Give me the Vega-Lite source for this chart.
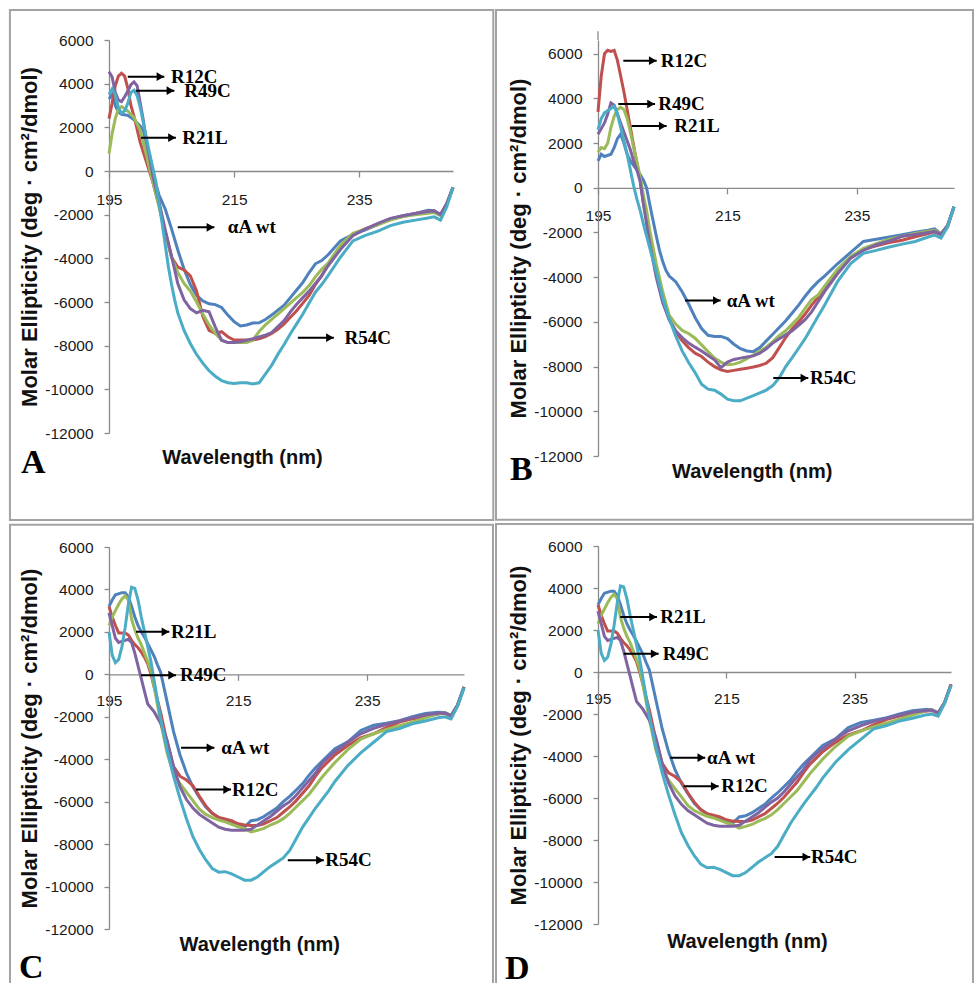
{
"$schema": "https://vega.github.io/schema/vega-lite/v6.json",
"padding": {"left": 8, "top": 9, "right": 0, "bottom": 0},
"background": "white",
"config": {
  "view": {"stroke": null},
  "axis": {"grid": false, "domainColor": "#8a8a8a", "tickColor": "#8a8a8a", "domainWidth": 1.3, "tickWidth": 1.3, "labelFont": "Liberation Sans", "labelFontSize": 15.5, "labelColor": "#1a1a1a", "titleFont": "Liberation Sans", "titleFontWeight": "bold", "titleColor": "#111111", "labelOverlap": false, "labelFlush": false},
  "axisX": {"tickSize": 6, "labelPadding": 15, "titleFontSize": 20, "titleAlign": "center", "titleBaseline": "middle"},
  "axisY": {"tickSize": 5, "labelPadding": 11, "titleFontSize": 22, "titlePadding": 3}
},
"datasets": {
"frames": [
{"p":"A","x":179.16,"x2":256.44,"v":7374,"v2":-15985,"L":"A","lx":180.92,"lv":-13832},
{"p":"B","x":179.24,"x2":252.94,"v":7953,"v2":-14847,"L":"B","lx":181.4,"lv":-13060},
{"p":"C","x":179.66,"x2":254.49,"v":7046,"v2":-14630,"L":"C","lx":181.06,"lv":-14300},
{"p":"D","x":179.11,"x2":253.43,"v":7048,"v2":-14857,"L":"D","lx":180.51,"lv":-14619}
],
"axisExt": [{"p":"B","x":195,"v":6612,"v2":7000}],
"ann": [
{"p":"A","t":"R12C","x":198.0,"x2":203.85,"v":4319,"tx":204.9},
{"p":"A","t":"R49C","x":199.3,"x2":205.45,"v":3678,"tx":207.05},
{"p":"A","t":"R21L","x":200.1,"x2":205.7,"v":1527,"tx":206.7},
{"p":"A","t":"αA wt","x":205.99,"x2":211.85,"v":-2580,"tx":214.0},
{"p":"A","t":"R54C","x":225.2,"x2":230.95,"v":-7633,"tx":232.65},
{"p":"B","t":"R12C","x":198.91,"x2":204.07,"v":5686,"tx":204.69},
{"p":"B","t":"R49C","x":198.14,"x2":203.81,"v":3750,"tx":204.32},
{"p":"B","t":"R21L","x":200.2,"x2":205.61,"v":2766,"tx":206.79},
{"p":"B","t":"αA wt","x":208.44,"x2":213.96,"v":-5044,"tx":214.88},
{"p":"B","t":"R54C","x":222.08,"x2":227.49,"v":-8513,"tx":227.75},
{"p":"C","t":"R21L","x":199.19,"x2":204.35,"v":2003,"tx":204.6},
{"p":"C","t":"R49C","x":199.96,"x2":205.39,"v":-38,"tx":206.0},
{"p":"C","t":"αA wt","x":206.16,"x2":211.33,"v":-3464,"tx":212.4},
{"p":"C","t":"R12C","x":208.49,"x2":213.91,"v":-5429,"tx":214.07},
{"p":"C","t":"R54C","x":222.7,"x2":228.29,"v":-8756,"tx":228.5},
{"p":"D","t":"R21L","x":198.47,"x2":204.19,"v":2619,"tx":204.7},
{"p":"D","t":"R49C","x":199.0,"x2":204.45,"v":871,"tx":205.1},
{"p":"D","t":"αA wt","x":206.26,"x2":211.71,"v":-4081,"tx":212.0},
{"p":"D","t":"R12C","x":208.35,"x2":213.8,"v":-5443,"tx":214.2},
{"p":"D","t":"R54C","x":222.52,"x2":228.07,"v":-8810,"tx":228.2}
],
"dA": [
{"s":"αA wt","x":195,"v":3300},{"s":"αA wt","x":195.5,"v":3500},{"s":"αA wt","x":196,"v":3000},{"s":"αA wt","x":196.5,"v":2700},{"s":"αA wt","x":197,"v":2600},{"s":"αA wt","x":198,"v":2550},{"s":"αA wt","x":199,"v":2350},{"s":"αA wt","x":200,"v":2050},{"s":"αA wt","x":200.5,"v":1850},{"s":"αA wt","x":201,"v":1300},{"s":"αA wt","x":201.5,"v":700},{"s":"αA wt","x":202,"v":0},{"s":"αA wt","x":202.5,"v":-600},{"s":"αA wt","x":203,"v":-1100},{"s":"αA wt","x":204,"v":-1750},{"s":"αA wt","x":205,"v":-2650},{"s":"αA wt","x":206,"v":-3620},{"s":"αA wt","x":207,"v":-4500},{"s":"αA wt","x":208,"v":-5200},{"s":"αA wt","x":209,"v":-5700},{"s":"αA wt","x":210,"v":-5950},{"s":"αA wt","x":211,"v":-6080},{"s":"αA wt","x":212,"v":-6120},{"s":"αA wt","x":213,"v":-6250},{"s":"αA wt","x":214,"v":-6600},{"s":"αA wt","x":215,"v":-6900},{"s":"αA wt","x":216,"v":-7100},{"s":"αA wt","x":217,"v":-7050},{"s":"αA wt","x":218,"v":-6960},{"s":"αA wt","x":219,"v":-6950},{"s":"αA wt","x":220,"v":-6800},{"s":"αA wt","x":221,"v":-6600},{"s":"αA wt","x":222,"v":-6370},{"s":"αA wt","x":223,"v":-6150},{"s":"αA wt","x":224,"v":-5800},{"s":"αA wt","x":225,"v":-5450},{"s":"αA wt","x":226,"v":-5100},{"s":"αA wt","x":227,"v":-4650},{"s":"αA wt","x":228,"v":-4250},{"s":"αA wt","x":229,"v":-4100},{"s":"αA wt","x":230,"v":-3850},{"s":"αA wt","x":232,"v":-3200},{"s":"αA wt","x":234,"v":-2900},{"s":"αA wt","x":236,"v":-2700},{"s":"αA wt","x":238,"v":-2450},{"s":"αA wt","x":240,"v":-2200},{"s":"αA wt","x":242,"v":-2050},{"s":"αA wt","x":244,"v":-1940},{"s":"αA wt","x":246,"v":-1800},{"s":"αA wt","x":247,"v":-1820},{"s":"αA wt","x":248,"v":-2000},{"s":"αA wt","x":249,"v":-1500},{"s":"αA wt","x":250,"v":-750},
{"s":"R12C","x":195,"v":2400},{"s":"R12C","x":195.5,"v":3100},{"s":"R12C","x":196,"v":3900},{"s":"R12C","x":196.5,"v":4350},{"s":"R12C","x":197,"v":4480},{"s":"R12C","x":197.5,"v":4350},{"s":"R12C","x":198,"v":3800},{"s":"R12C","x":198.5,"v":3000},{"s":"R12C","x":199,"v":2500},{"s":"R12C","x":199.5,"v":1900},{"s":"R12C","x":200,"v":1300},{"s":"R12C","x":201,"v":400},{"s":"R12C","x":202,"v":-500},{"s":"R12C","x":203,"v":-1600},{"s":"R12C","x":204,"v":-2800},{"s":"R12C","x":205,"v":-3950},{"s":"R12C","x":206,"v":-4400},{"s":"R12C","x":207,"v":-4530},{"s":"R12C","x":208,"v":-4800},{"s":"R12C","x":209,"v":-5500},{"s":"R12C","x":210,"v":-6670},{"s":"R12C","x":211,"v":-7300},{"s":"R12C","x":212,"v":-7440},{"s":"R12C","x":213,"v":-7360},{"s":"R12C","x":214,"v":-7590},{"s":"R12C","x":215,"v":-7740},{"s":"R12C","x":216,"v":-7740},{"s":"R12C","x":217,"v":-7740},{"s":"R12C","x":218,"v":-7740},{"s":"R12C","x":219,"v":-7680},{"s":"R12C","x":220,"v":-7590},{"s":"R12C","x":221,"v":-7440},{"s":"R12C","x":222,"v":-7250},{"s":"R12C","x":223,"v":-7000},{"s":"R12C","x":224,"v":-6700},{"s":"R12C","x":225,"v":-6400},{"s":"R12C","x":226,"v":-6050},{"s":"R12C","x":227,"v":-5700},{"s":"R12C","x":228,"v":-5200},{"s":"R12C","x":229,"v":-4800},{"s":"R12C","x":230,"v":-4300},{"s":"R12C","x":232,"v":-3500},{"s":"R12C","x":234,"v":-2950},{"s":"R12C","x":236,"v":-2650},{"s":"R12C","x":238,"v":-2450},{"s":"R12C","x":240,"v":-2200},{"s":"R12C","x":242,"v":-2080},{"s":"R12C","x":244,"v":-1950},{"s":"R12C","x":246,"v":-1860},{"s":"R12C","x":247,"v":-1830},{"s":"R12C","x":248,"v":-2000},{"s":"R12C","x":249,"v":-1500},{"s":"R12C","x":250,"v":-750},
{"s":"R21L","x":195,"v":800},{"s":"R21L","x":195.5,"v":1700},{"s":"R21L","x":196,"v":2400},{"s":"R21L","x":196.5,"v":2850},{"s":"R21L","x":197,"v":2950},{"s":"R21L","x":197.5,"v":2850},{"s":"R21L","x":198,"v":2750},{"s":"R21L","x":198.5,"v":2600},{"s":"R21L","x":199,"v":2450},{"s":"R21L","x":199.5,"v":2150},{"s":"R21L","x":200,"v":1850},{"s":"R21L","x":200.5,"v":1300},{"s":"R21L","x":201,"v":700},{"s":"R21L","x":201.5,"v":100},{"s":"R21L","x":202,"v":-500},{"s":"R21L","x":203,"v":-1600},{"s":"R21L","x":204,"v":-2800},{"s":"R21L","x":205,"v":-3950},{"s":"R21L","x":206,"v":-4650},{"s":"R21L","x":207,"v":-5150},{"s":"R21L","x":208,"v":-5500},{"s":"R21L","x":209,"v":-6000},{"s":"R21L","x":210,"v":-6550},{"s":"R21L","x":211,"v":-7050},{"s":"R21L","x":212,"v":-7450},{"s":"R21L","x":213,"v":-7750},{"s":"R21L","x":214,"v":-7860},{"s":"R21L","x":215,"v":-7860},{"s":"R21L","x":216,"v":-7860},{"s":"R21L","x":217,"v":-7860},{"s":"R21L","x":218,"v":-7750},{"s":"R21L","x":219,"v":-7350},{"s":"R21L","x":220,"v":-7050},{"s":"R21L","x":221,"v":-6800},{"s":"R21L","x":222,"v":-6550},{"s":"R21L","x":223,"v":-6300},{"s":"R21L","x":224,"v":-6050},{"s":"R21L","x":225,"v":-5800},{"s":"R21L","x":226,"v":-5550},{"s":"R21L","x":227,"v":-5250},{"s":"R21L","x":228,"v":-4850},{"s":"R21L","x":229,"v":-4500},{"s":"R21L","x":230,"v":-4230},{"s":"R21L","x":232,"v":-3400},{"s":"R21L","x":234,"v":-2850},{"s":"R21L","x":236,"v":-2650},{"s":"R21L","x":238,"v":-2450},{"s":"R21L","x":240,"v":-2250},{"s":"R21L","x":242,"v":-2090},{"s":"R21L","x":244,"v":-2000},{"s":"R21L","x":246,"v":-1940},{"s":"R21L","x":247,"v":-1900},{"s":"R21L","x":248,"v":-2050},{"s":"R21L","x":249,"v":-1550},{"s":"R21L","x":250,"v":-750},
{"s":"R49C","x":195,"v":4550},{"s":"R49C","x":195.5,"v":4300},{"s":"R49C","x":196,"v":3600},{"s":"R49C","x":196.5,"v":3250},{"s":"R49C","x":197,"v":3180},{"s":"R49C","x":197.5,"v":3400},{"s":"R49C","x":198,"v":3650},{"s":"R49C","x":198.5,"v":3950},{"s":"R49C","x":199,"v":4080},{"s":"R49C","x":199.5,"v":3900},{"s":"R49C","x":200,"v":3100},{"s":"R49C","x":200.5,"v":2300},{"s":"R49C","x":201,"v":1300},{"s":"R49C","x":201.5,"v":600},{"s":"R49C","x":202,"v":-200},{"s":"R49C","x":203,"v":-1400},{"s":"R49C","x":204,"v":-2700},{"s":"R49C","x":205,"v":-3900},{"s":"R49C","x":206,"v":-5150},{"s":"R49C","x":207,"v":-5900},{"s":"R49C","x":208,"v":-6300},{"s":"R49C","x":209,"v":-6500},{"s":"R49C","x":210,"v":-6380},{"s":"R49C","x":211,"v":-6450},{"s":"R49C","x":212,"v":-7150},{"s":"R49C","x":213,"v":-7750},{"s":"R49C","x":214,"v":-7860},{"s":"R49C","x":215,"v":-7850},{"s":"R49C","x":216,"v":-7820},{"s":"R49C","x":217,"v":-7750},{"s":"R49C","x":218,"v":-7680},{"s":"R49C","x":219,"v":-7600},{"s":"R49C","x":220,"v":-7520},{"s":"R49C","x":221,"v":-7400},{"s":"R49C","x":222,"v":-7130},{"s":"R49C","x":223,"v":-6850},{"s":"R49C","x":224,"v":-6450},{"s":"R49C","x":225,"v":-6100},{"s":"R49C","x":226,"v":-5800},{"s":"R49C","x":227,"v":-5500},{"s":"R49C","x":228,"v":-5150},{"s":"R49C","x":229,"v":-4800},{"s":"R49C","x":230,"v":-4350},{"s":"R49C","x":232,"v":-3600},{"s":"R49C","x":234,"v":-2950},{"s":"R49C","x":236,"v":-2650},{"s":"R49C","x":238,"v":-2400},{"s":"R49C","x":240,"v":-2170},{"s":"R49C","x":242,"v":-2050},{"s":"R49C","x":244,"v":-1950},{"s":"R49C","x":246,"v":-1860},{"s":"R49C","x":247,"v":-1830},{"s":"R49C","x":248,"v":-2000},{"s":"R49C","x":249,"v":-1500},{"s":"R49C","x":250,"v":-750},
{"s":"R54C","x":195,"v":3500},{"s":"R54C","x":195.5,"v":3750},{"s":"R54C","x":196,"v":3500},{"s":"R54C","x":196.5,"v":2900},{"s":"R54C","x":197,"v":2650},{"s":"R54C","x":197.5,"v":2750},{"s":"R54C","x":198,"v":3100},{"s":"R54C","x":198.5,"v":3600},{"s":"R54C","x":199,"v":3700},{"s":"R54C","x":199.5,"v":3450},{"s":"R54C","x":200,"v":2900},{"s":"R54C","x":200.5,"v":2200},{"s":"R54C","x":201,"v":1500},{"s":"R54C","x":201.5,"v":800},{"s":"R54C","x":202,"v":150},{"s":"R54C","x":202.5,"v":-500},{"s":"R54C","x":203,"v":-1500},{"s":"R54C","x":203.5,"v":-2400},{"s":"R54C","x":204,"v":-3400},{"s":"R54C","x":204.5,"v":-4400},{"s":"R54C","x":205,"v":-5200},{"s":"R54C","x":205.5,"v":-5900},{"s":"R54C","x":206,"v":-6500},{"s":"R54C","x":207,"v":-7300},{"s":"R54C","x":208,"v":-7900},{"s":"R54C","x":209,"v":-8400},{"s":"R54C","x":210,"v":-8800},{"s":"R54C","x":211,"v":-9150},{"s":"R54C","x":212,"v":-9400},{"s":"R54C","x":213,"v":-9600},{"s":"R54C","x":214,"v":-9700},{"s":"R54C","x":215,"v":-9730},{"s":"R54C","x":216,"v":-9700},{"s":"R54C","x":217,"v":-9700},{"s":"R54C","x":218,"v":-9750},{"s":"R54C","x":219,"v":-9700},{"s":"R54C","x":220,"v":-9300},{"s":"R54C","x":221,"v":-8900},{"s":"R54C","x":222,"v":-8400},{"s":"R54C","x":223,"v":-7950},{"s":"R54C","x":224,"v":-7450},{"s":"R54C","x":225,"v":-7000},{"s":"R54C","x":226,"v":-6550},{"s":"R54C","x":227,"v":-6050},{"s":"R54C","x":228,"v":-5550},{"s":"R54C","x":229,"v":-5200},{"s":"R54C","x":230,"v":-4800},{"s":"R54C","x":232,"v":-3950},{"s":"R54C","x":234,"v":-3200},{"s":"R54C","x":236,"v":-2950},{"s":"R54C","x":238,"v":-2750},{"s":"R54C","x":240,"v":-2500},{"s":"R54C","x":242,"v":-2350},{"s":"R54C","x":244,"v":-2250},{"s":"R54C","x":246,"v":-2150},{"s":"R54C","x":247,"v":-2100},{"s":"R54C","x":248,"v":-2250},{"s":"R54C","x":249,"v":-1650},{"s":"R54C","x":250,"v":-750}
],
"dB": [
{"s":"αA wt","x":195,"v":1200},{"s":"αA wt","x":195.5,"v":1500},{"s":"αA wt","x":196,"v":1400},{"s":"αA wt","x":197,"v":1500},{"s":"αA wt","x":197.5,"v":1800},{"s":"αA wt","x":198,"v":2200},{"s":"αA wt","x":198.5,"v":2400},{"s":"αA wt","x":199,"v":2000},{"s":"αA wt","x":199.5,"v":1500},{"s":"αA wt","x":200,"v":1200},{"s":"αA wt","x":200.5,"v":1000},{"s":"αA wt","x":201,"v":800},{"s":"αA wt","x":201.5,"v":600},{"s":"αA wt","x":202,"v":350},{"s":"αA wt","x":202.5,"v":0},{"s":"αA wt","x":203,"v":-750},{"s":"αA wt","x":203.5,"v":-1450},{"s":"αA wt","x":204,"v":-2150},{"s":"αA wt","x":204.5,"v":-2800},{"s":"αA wt","x":205,"v":-3300},{"s":"αA wt","x":205.5,"v":-3700},{"s":"αA wt","x":206,"v":-3950},{"s":"αA wt","x":207,"v":-4200},{"s":"αA wt","x":208,"v":-4650},{"s":"αA wt","x":209,"v":-5200},{"s":"αA wt","x":210,"v":-5800},{"s":"αA wt","x":211,"v":-6300},{"s":"αA wt","x":212,"v":-6600},{"s":"αA wt","x":213,"v":-6650},{"s":"αA wt","x":214,"v":-6650},{"s":"αA wt","x":215,"v":-6750},{"s":"αA wt","x":216,"v":-7000},{"s":"αA wt","x":217,"v":-7200},{"s":"αA wt","x":218,"v":-7300},{"s":"αA wt","x":219,"v":-7330},{"s":"αA wt","x":220,"v":-7150},{"s":"αA wt","x":221,"v":-6850},{"s":"αA wt","x":222,"v":-6550},{"s":"αA wt","x":223,"v":-6250},{"s":"αA wt","x":224,"v":-5950},{"s":"αA wt","x":225,"v":-5600},{"s":"αA wt","x":226,"v":-5250},{"s":"αA wt","x":227,"v":-4850},{"s":"αA wt","x":228,"v":-4500},{"s":"αA wt","x":229,"v":-4200},{"s":"αA wt","x":230,"v":-3950},{"s":"αA wt","x":232,"v":-3400},{"s":"αA wt","x":234,"v":-2900},{"s":"αA wt","x":236,"v":-2400},{"s":"αA wt","x":238,"v":-2300},{"s":"αA wt","x":240,"v":-2200},{"s":"αA wt","x":242,"v":-2100},{"s":"αA wt","x":244,"v":-1990},{"s":"αA wt","x":246,"v":-1900},{"s":"αA wt","x":247,"v":-1840},{"s":"αA wt","x":248,"v":-2050},{"s":"αA wt","x":249,"v":-1700},{"s":"αA wt","x":250,"v":-850},
{"s":"R12C","x":195,"v":3400},{"s":"R12C","x":195.5,"v":5000},{"s":"R12C","x":196,"v":6000},{"s":"R12C","x":196.5,"v":6150},{"s":"R12C","x":197,"v":6100},{"s":"R12C","x":197.5,"v":6150},{"s":"R12C","x":198,"v":5700},{"s":"R12C","x":198.5,"v":5000},{"s":"R12C","x":199,"v":4300},{"s":"R12C","x":199.5,"v":3500},{"s":"R12C","x":200,"v":2700},{"s":"R12C","x":200.5,"v":1900},{"s":"R12C","x":201,"v":1100},{"s":"R12C","x":201.5,"v":400},{"s":"R12C","x":202,"v":-650},{"s":"R12C","x":203,"v":-2260},{"s":"R12C","x":204,"v":-3800},{"s":"R12C","x":205,"v":-5000},{"s":"R12C","x":206,"v":-5900},{"s":"R12C","x":207,"v":-6450},{"s":"R12C","x":208,"v":-6850},{"s":"R12C","x":209,"v":-7150},{"s":"R12C","x":210,"v":-7400},{"s":"R12C","x":211,"v":-7550},{"s":"R12C","x":212,"v":-7800},{"s":"R12C","x":213,"v":-8000},{"s":"R12C","x":214,"v":-8150},{"s":"R12C","x":215,"v":-8220},{"s":"R12C","x":216,"v":-8170},{"s":"R12C","x":217,"v":-8120},{"s":"R12C","x":218,"v":-8070},{"s":"R12C","x":219,"v":-8020},{"s":"R12C","x":220,"v":-7950},{"s":"R12C","x":221,"v":-7850},{"s":"R12C","x":222,"v":-7600},{"s":"R12C","x":223,"v":-7150},{"s":"R12C","x":224,"v":-6700},{"s":"R12C","x":225,"v":-6300},{"s":"R12C","x":226,"v":-6000},{"s":"R12C","x":227,"v":-5650},{"s":"R12C","x":228,"v":-5250},{"s":"R12C","x":229,"v":-4900},{"s":"R12C","x":230,"v":-4550},{"s":"R12C","x":232,"v":-3750},{"s":"R12C","x":234,"v":-3150},{"s":"R12C","x":236,"v":-2750},{"s":"R12C","x":238,"v":-2600},{"s":"R12C","x":240,"v":-2450},{"s":"R12C","x":242,"v":-2350},{"s":"R12C","x":244,"v":-2190},{"s":"R12C","x":246,"v":-2050},{"s":"R12C","x":247,"v":-1980},{"s":"R12C","x":248,"v":-2100},{"s":"R12C","x":249,"v":-1750},{"s":"R12C","x":250,"v":-850},
{"s":"R21L","x":195,"v":1600},{"s":"R21L","x":195.5,"v":1800},{"s":"R21L","x":196,"v":1750},{"s":"R21L","x":196.5,"v":2000},{"s":"R21L","x":197,"v":2700},{"s":"R21L","x":197.5,"v":3200},{"s":"R21L","x":198,"v":3500},{"s":"R21L","x":198.5,"v":3600},{"s":"R21L","x":199,"v":3500},{"s":"R21L","x":199.5,"v":3100},{"s":"R21L","x":200,"v":2500},{"s":"R21L","x":200.5,"v":1800},{"s":"R21L","x":201,"v":1200},{"s":"R21L","x":201.5,"v":500},{"s":"R21L","x":202,"v":-300},{"s":"R21L","x":202.5,"v":-1000},{"s":"R21L","x":203,"v":-1900},{"s":"R21L","x":204,"v":-3400},{"s":"R21L","x":205,"v":-4650},{"s":"R21L","x":206,"v":-5700},{"s":"R21L","x":207,"v":-6100},{"s":"R21L","x":208,"v":-6380},{"s":"R21L","x":209,"v":-6520},{"s":"R21L","x":210,"v":-6730},{"s":"R21L","x":211,"v":-7030},{"s":"R21L","x":212,"v":-7330},{"s":"R21L","x":213,"v":-7620},{"s":"R21L","x":214,"v":-7800},{"s":"R21L","x":215,"v":-7920},{"s":"R21L","x":216,"v":-7890},{"s":"R21L","x":217,"v":-7800},{"s":"R21L","x":218,"v":-7650},{"s":"R21L","x":219,"v":-7480},{"s":"R21L","x":220,"v":-7300},{"s":"R21L","x":221,"v":-7130},{"s":"R21L","x":222,"v":-6880},{"s":"R21L","x":223,"v":-6600},{"s":"R21L","x":224,"v":-6400},{"s":"R21L","x":225,"v":-6100},{"s":"R21L","x":226,"v":-5800},{"s":"R21L","x":227,"v":-5400},{"s":"R21L","x":228,"v":-5000},{"s":"R21L","x":229,"v":-4800},{"s":"R21L","x":230,"v":-4400},{"s":"R21L","x":232,"v":-3650},{"s":"R21L","x":234,"v":-3080},{"s":"R21L","x":236,"v":-2710},{"s":"R21L","x":238,"v":-2500},{"s":"R21L","x":240,"v":-2300},{"s":"R21L","x":242,"v":-2170},{"s":"R21L","x":244,"v":-2040},{"s":"R21L","x":246,"v":-1940},{"s":"R21L","x":247,"v":-1900},{"s":"R21L","x":248,"v":-2050},{"s":"R21L","x":249,"v":-1700},{"s":"R21L","x":250,"v":-850},
{"s":"R49C","x":195,"v":2400},{"s":"R49C","x":196,"v":2900},{"s":"R49C","x":196.5,"v":3300},{"s":"R49C","x":197,"v":3800},{"s":"R49C","x":197.5,"v":3700},{"s":"R49C","x":198,"v":3300},{"s":"R49C","x":198.5,"v":2900},{"s":"R49C","x":199,"v":2500},{"s":"R49C","x":199.5,"v":2100},{"s":"R49C","x":200,"v":1700},{"s":"R49C","x":200.5,"v":1200},{"s":"R49C","x":201,"v":800},{"s":"R49C","x":201.5,"v":300},{"s":"R49C","x":202,"v":-700},{"s":"R49C","x":203,"v":-2500},{"s":"R49C","x":204,"v":-4000},{"s":"R49C","x":205,"v":-5150},{"s":"R49C","x":206,"v":-5900},{"s":"R49C","x":207,"v":-6400},{"s":"R49C","x":208,"v":-6700},{"s":"R49C","x":209,"v":-6950},{"s":"R49C","x":210,"v":-7130},{"s":"R49C","x":211,"v":-7300},{"s":"R49C","x":212,"v":-7500},{"s":"R49C","x":213,"v":-7700},{"s":"R49C","x":214,"v":-8050},{"s":"R49C","x":215,"v":-7800},{"s":"R49C","x":216,"v":-7680},{"s":"R49C","x":217,"v":-7620},{"s":"R49C","x":218,"v":-7570},{"s":"R49C","x":219,"v":-7520},{"s":"R49C","x":220,"v":-7400},{"s":"R49C","x":221,"v":-7200},{"s":"R49C","x":222,"v":-6950},{"s":"R49C","x":223,"v":-6750},{"s":"R49C","x":224,"v":-6580},{"s":"R49C","x":225,"v":-6400},{"s":"R49C","x":226,"v":-6150},{"s":"R49C","x":227,"v":-5900},{"s":"R49C","x":228,"v":-5550},{"s":"R49C","x":229,"v":-5100},{"s":"R49C","x":230,"v":-4650},{"s":"R49C","x":232,"v":-3850},{"s":"R49C","x":234,"v":-3150},{"s":"R49C","x":236,"v":-2800},{"s":"R49C","x":238,"v":-2550},{"s":"R49C","x":240,"v":-2380},{"s":"R49C","x":242,"v":-2170},{"s":"R49C","x":244,"v":-2090},{"s":"R49C","x":246,"v":-2000},{"s":"R49C","x":247,"v":-1950},{"s":"R49C","x":248,"v":-2080},{"s":"R49C","x":249,"v":-1700},{"s":"R49C","x":250,"v":-850},
{"s":"R54C","x":195,"v":2600},{"s":"R54C","x":195.5,"v":3100},{"s":"R54C","x":196,"v":3350},{"s":"R54C","x":196.5,"v":3450},{"s":"R54C","x":197,"v":3550},{"s":"R54C","x":197.5,"v":3650},{"s":"R54C","x":198,"v":3300},{"s":"R54C","x":198.5,"v":2700},{"s":"R54C","x":199,"v":2100},{"s":"R54C","x":199.5,"v":1500},{"s":"R54C","x":200,"v":800},{"s":"R54C","x":200.5,"v":100},{"s":"R54C","x":201,"v":-500},{"s":"R54C","x":201.5,"v":-1000},{"s":"R54C","x":202,"v":-1600},{"s":"R54C","x":203,"v":-2700},{"s":"R54C","x":204,"v":-3750},{"s":"R54C","x":205,"v":-4940},{"s":"R54C","x":206,"v":-5850},{"s":"R54C","x":207,"v":-6630},{"s":"R54C","x":208,"v":-7300},{"s":"R54C","x":209,"v":-7820},{"s":"R54C","x":210,"v":-8270},{"s":"R54C","x":211,"v":-8790},{"s":"R54C","x":212,"v":-9010},{"s":"R54C","x":213,"v":-9060},{"s":"R54C","x":214,"v":-9230},{"s":"R54C","x":215,"v":-9460},{"s":"R54C","x":216,"v":-9530},{"s":"R54C","x":217,"v":-9530},{"s":"R54C","x":218,"v":-9410},{"s":"R54C","x":219,"v":-9300},{"s":"R54C","x":220,"v":-9180},{"s":"R54C","x":221,"v":-9050},{"s":"R54C","x":222,"v":-8850},{"s":"R54C","x":223,"v":-8500},{"s":"R54C","x":224,"v":-8000},{"s":"R54C","x":225,"v":-7600},{"s":"R54C","x":226,"v":-7180},{"s":"R54C","x":227,"v":-6750},{"s":"R54C","x":228,"v":-6250},{"s":"R54C","x":229,"v":-5750},{"s":"R54C","x":230,"v":-5250},{"s":"R54C","x":232,"v":-4200},{"s":"R54C","x":234,"v":-3400},{"s":"R54C","x":236,"v":-2930},{"s":"R54C","x":238,"v":-2800},{"s":"R54C","x":240,"v":-2650},{"s":"R54C","x":242,"v":-2520},{"s":"R54C","x":244,"v":-2400},{"s":"R54C","x":246,"v":-2200},{"s":"R54C","x":247,"v":-2120},{"s":"R54C","x":248,"v":-2250},{"s":"R54C","x":249,"v":-1750},{"s":"R54C","x":250,"v":-850}
],
"dC": [
{"s":"αA wt","x":195,"v":3200},{"s":"αA wt","x":195.5,"v":3500},{"s":"αA wt","x":196,"v":3750},{"s":"αA wt","x":197,"v":3850},{"s":"αA wt","x":197.5,"v":3850},{"s":"αA wt","x":198,"v":3650},{"s":"αA wt","x":198.5,"v":3200},{"s":"αA wt","x":199,"v":2700},{"s":"αA wt","x":199.5,"v":2300},{"s":"αA wt","x":200,"v":2000},{"s":"αA wt","x":200.5,"v":1750},{"s":"αA wt","x":201,"v":1450},{"s":"αA wt","x":201.5,"v":1150},{"s":"αA wt","x":202,"v":850},{"s":"αA wt","x":202.5,"v":450},{"s":"αA wt","x":203,"v":100},{"s":"αA wt","x":204,"v":-1300},{"s":"αA wt","x":205,"v":-2700},{"s":"αA wt","x":206,"v":-3800},{"s":"αA wt","x":207,"v":-4650},{"s":"αA wt","x":208,"v":-5300},{"s":"αA wt","x":209,"v":-5800},{"s":"αA wt","x":210,"v":-6250},{"s":"αA wt","x":211,"v":-6550},{"s":"αA wt","x":212,"v":-6750},{"s":"αA wt","x":213,"v":-6900},{"s":"αA wt","x":214,"v":-7000},{"s":"αA wt","x":215,"v":-7120},{"s":"αA wt","x":216,"v":-7200},{"s":"αA wt","x":217,"v":-6900},{"s":"αA wt","x":218,"v":-6850},{"s":"αA wt","x":219,"v":-6700},{"s":"αA wt","x":220,"v":-6500},{"s":"αA wt","x":221,"v":-6300},{"s":"αA wt","x":222,"v":-6000},{"s":"αA wt","x":223,"v":-5750},{"s":"αA wt","x":224,"v":-5450},{"s":"αA wt","x":225,"v":-5150},{"s":"αA wt","x":226,"v":-4750},{"s":"αA wt","x":227,"v":-4400},{"s":"αA wt","x":228,"v":-4100},{"s":"αA wt","x":229,"v":-3800},{"s":"αA wt","x":230,"v":-3500},{"s":"αA wt","x":232,"v":-3180},{"s":"αA wt","x":234,"v":-2650},{"s":"αA wt","x":236,"v":-2400},{"s":"αA wt","x":238,"v":-2300},{"s":"αA wt","x":240,"v":-2180},{"s":"αA wt","x":242,"v":-2000},{"s":"αA wt","x":244,"v":-1850},{"s":"αA wt","x":246,"v":-1790},{"s":"αA wt","x":247,"v":-1800},{"s":"αA wt","x":248,"v":-1950},{"s":"αA wt","x":249,"v":-1450},{"s":"αA wt","x":250,"v":-600},
{"s":"R12C","x":195,"v":3200},{"s":"R12C","x":195.5,"v":2700},{"s":"R12C","x":196,"v":2300},{"s":"R12C","x":196.5,"v":1950},{"s":"R12C","x":197,"v":1950},{"s":"R12C","x":197.5,"v":1950},{"s":"R12C","x":198,"v":1850},{"s":"R12C","x":198.5,"v":1600},{"s":"R12C","x":199,"v":1400},{"s":"R12C","x":199.5,"v":1250},{"s":"R12C","x":200,"v":1050},{"s":"R12C","x":200.5,"v":800},{"s":"R12C","x":201,"v":500},{"s":"R12C","x":201.5,"v":0},{"s":"R12C","x":202,"v":-600},{"s":"R12C","x":203,"v":-1800},{"s":"R12C","x":204,"v":-3200},{"s":"R12C","x":205,"v":-4350},{"s":"R12C","x":206,"v":-4800},{"s":"R12C","x":207,"v":-4980},{"s":"R12C","x":208,"v":-5250},{"s":"R12C","x":209,"v":-5750},{"s":"R12C","x":210,"v":-6200},{"s":"R12C","x":211,"v":-6550},{"s":"R12C","x":212,"v":-6750},{"s":"R12C","x":213,"v":-6820},{"s":"R12C","x":214,"v":-6900},{"s":"R12C","x":215,"v":-7040},{"s":"R12C","x":216,"v":-7100},{"s":"R12C","x":217,"v":-7120},{"s":"R12C","x":218,"v":-7120},{"s":"R12C","x":219,"v":-7050},{"s":"R12C","x":220,"v":-6900},{"s":"R12C","x":221,"v":-6750},{"s":"R12C","x":222,"v":-6500},{"s":"R12C","x":223,"v":-6250},{"s":"R12C","x":224,"v":-5950},{"s":"R12C","x":225,"v":-5600},{"s":"R12C","x":226,"v":-5250},{"s":"R12C","x":227,"v":-4800},{"s":"R12C","x":228,"v":-4400},{"s":"R12C","x":229,"v":-4100},{"s":"R12C","x":230,"v":-3800},{"s":"R12C","x":232,"v":-3350},{"s":"R12C","x":234,"v":-3000},{"s":"R12C","x":236,"v":-2800},{"s":"R12C","x":238,"v":-2500},{"s":"R12C","x":240,"v":-2250},{"s":"R12C","x":242,"v":-2100},{"s":"R12C","x":244,"v":-1990},{"s":"R12C","x":246,"v":-1870},{"s":"R12C","x":247,"v":-1830},{"s":"R12C","x":248,"v":-1980},{"s":"R12C","x":249,"v":-1480},{"s":"R12C","x":250,"v":-600},
{"s":"R21L","x":195,"v":2300},{"s":"R21L","x":195.5,"v":2700},{"s":"R21L","x":196,"v":3000},{"s":"R21L","x":196.5,"v":3300},{"s":"R21L","x":197,"v":3550},{"s":"R21L","x":197.5,"v":3700},{"s":"R21L","x":198,"v":3500},{"s":"R21L","x":198.5,"v":2600},{"s":"R21L","x":199,"v":2100},{"s":"R21L","x":199.5,"v":1700},{"s":"R21L","x":200,"v":1400},{"s":"R21L","x":200.5,"v":1000},{"s":"R21L","x":201,"v":600},{"s":"R21L","x":201.5,"v":150},{"s":"R21L","x":202,"v":-600},{"s":"R21L","x":203,"v":-2250},{"s":"R21L","x":204,"v":-3700},{"s":"R21L","x":205,"v":-4700},{"s":"R21L","x":206,"v":-5150},{"s":"R21L","x":207,"v":-5550},{"s":"R21L","x":208,"v":-5950},{"s":"R21L","x":209,"v":-6350},{"s":"R21L","x":210,"v":-6600},{"s":"R21L","x":211,"v":-6750},{"s":"R21L","x":212,"v":-6870},{"s":"R21L","x":213,"v":-6950},{"s":"R21L","x":214,"v":-7070},{"s":"R21L","x":215,"v":-7180},{"s":"R21L","x":216,"v":-7270},{"s":"R21L","x":217,"v":-7430},{"s":"R21L","x":218,"v":-7350},{"s":"R21L","x":219,"v":-7260},{"s":"R21L","x":220,"v":-7100},{"s":"R21L","x":221,"v":-6980},{"s":"R21L","x":222,"v":-6800},{"s":"R21L","x":223,"v":-6550},{"s":"R21L","x":224,"v":-6250},{"s":"R21L","x":225,"v":-5950},{"s":"R21L","x":226,"v":-5650},{"s":"R21L","x":227,"v":-5250},{"s":"R21L","x":228,"v":-4850},{"s":"R21L","x":229,"v":-4500},{"s":"R21L","x":230,"v":-4150},{"s":"R21L","x":232,"v":-3550},{"s":"R21L","x":234,"v":-3050},{"s":"R21L","x":236,"v":-2800},{"s":"R21L","x":238,"v":-2600},{"s":"R21L","x":240,"v":-2420},{"s":"R21L","x":242,"v":-2250},{"s":"R21L","x":244,"v":-2050},{"s":"R21L","x":246,"v":-1850},{"s":"R21L","x":247,"v":-1800},{"s":"R21L","x":248,"v":-1950},{"s":"R21L","x":249,"v":-1450},{"s":"R21L","x":250,"v":-600},
{"s":"R49C","x":195,"v":2900},{"s":"R49C","x":195.5,"v":2300},{"s":"R49C","x":196,"v":1700},{"s":"R49C","x":196.5,"v":1500},{"s":"R49C","x":197,"v":1550},{"s":"R49C","x":197.5,"v":1600},{"s":"R49C","x":198,"v":1650},{"s":"R49C","x":198.5,"v":1500},{"s":"R49C","x":199,"v":1000},{"s":"R49C","x":199.5,"v":400},{"s":"R49C","x":200,"v":-200},{"s":"R49C","x":200.5,"v":-800},{"s":"R49C","x":201,"v":-1400},{"s":"R49C","x":202,"v":-1770},{"s":"R49C","x":203,"v":-2300},{"s":"R49C","x":204,"v":-3100},{"s":"R49C","x":205,"v":-4350},{"s":"R49C","x":206,"v":-5300},{"s":"R49C","x":207,"v":-5900},{"s":"R49C","x":208,"v":-6300},{"s":"R49C","x":209,"v":-6600},{"s":"R49C","x":210,"v":-6800},{"s":"R49C","x":211,"v":-7000},{"s":"R49C","x":212,"v":-7200},{"s":"R49C","x":213,"v":-7300},{"s":"R49C","x":214,"v":-7350},{"s":"R49C","x":215,"v":-7350},{"s":"R49C","x":216,"v":-7350},{"s":"R49C","x":217,"v":-7300},{"s":"R49C","x":218,"v":-7100},{"s":"R49C","x":219,"v":-6900},{"s":"R49C","x":220,"v":-6700},{"s":"R49C","x":221,"v":-6450},{"s":"R49C","x":222,"v":-6200},{"s":"R49C","x":223,"v":-6000},{"s":"R49C","x":224,"v":-5700},{"s":"R49C","x":225,"v":-5350},{"s":"R49C","x":226,"v":-5000},{"s":"R49C","x":227,"v":-4650},{"s":"R49C","x":228,"v":-4200},{"s":"R49C","x":229,"v":-3900},{"s":"R49C","x":230,"v":-3650},{"s":"R49C","x":232,"v":-3200},{"s":"R49C","x":234,"v":-2800},{"s":"R49C","x":236,"v":-2550},{"s":"R49C","x":238,"v":-2350},{"s":"R49C","x":240,"v":-2200},{"s":"R49C","x":242,"v":-2050},{"s":"R49C","x":244,"v":-1920},{"s":"R49C","x":246,"v":-1830},{"s":"R49C","x":247,"v":-1810},{"s":"R49C","x":248,"v":-1950},{"s":"R49C","x":249,"v":-1450},{"s":"R49C","x":250,"v":-600},
{"s":"R54C","x":195,"v":2000},{"s":"R54C","x":195.5,"v":900},{"s":"R54C","x":196,"v":550},{"s":"R54C","x":196.5,"v":700},{"s":"R54C","x":197,"v":1300},{"s":"R54C","x":197.5,"v":2200},{"s":"R54C","x":198,"v":3300},{"s":"R54C","x":198.5,"v":4100},{"s":"R54C","x":199,"v":4050},{"s":"R54C","x":199.5,"v":3500},{"s":"R54C","x":200,"v":2700},{"s":"R54C","x":200.5,"v":2000},{"s":"R54C","x":201,"v":1300},{"s":"R54C","x":201.5,"v":600},{"s":"R54C","x":202,"v":-300},{"s":"R54C","x":203,"v":-2100},{"s":"R54C","x":204,"v":-3550},{"s":"R54C","x":205,"v":-4800},{"s":"R54C","x":206,"v":-5850},{"s":"R54C","x":207,"v":-6800},{"s":"R54C","x":208,"v":-7650},{"s":"R54C","x":209,"v":-8250},{"s":"R54C","x":210,"v":-8750},{"s":"R54C","x":211,"v":-9150},{"s":"R54C","x":212,"v":-9320},{"s":"R54C","x":213,"v":-9300},{"s":"R54C","x":214,"v":-9400},{"s":"R54C","x":215,"v":-9550},{"s":"R54C","x":216,"v":-9700},{"s":"R54C","x":217,"v":-9700},{"s":"R54C","x":218,"v":-9550},{"s":"R54C","x":219,"v":-9300},{"s":"R54C","x":220,"v":-9050},{"s":"R54C","x":221,"v":-8850},{"s":"R54C","x":222,"v":-8650},{"s":"R54C","x":223,"v":-8300},{"s":"R54C","x":224,"v":-7750},{"s":"R54C","x":225,"v":-7200},{"s":"R54C","x":226,"v":-6750},{"s":"R54C","x":227,"v":-6300},{"s":"R54C","x":228,"v":-5900},{"s":"R54C","x":229,"v":-5500},{"s":"R54C","x":230,"v":-5050},{"s":"R54C","x":232,"v":-4300},{"s":"R54C","x":234,"v":-3700},{"s":"R54C","x":236,"v":-3200},{"s":"R54C","x":238,"v":-2700},{"s":"R54C","x":240,"v":-2550},{"s":"R54C","x":242,"v":-2330},{"s":"R54C","x":244,"v":-2200},{"s":"R54C","x":246,"v":-2050},{"s":"R54C","x":247,"v":-2000},{"s":"R54C","x":248,"v":-2100},{"s":"R54C","x":249,"v":-1500},{"s":"R54C","x":250,"v":-650}
]
},
"spacing": -1,
"hconcat": [
{"spacing": 1, "vconcat": [
{"width": 344, "height": 393, "layer": [
 {"data": {"name": "frames"}, "transform": [{"filter": "datum.p == 'A'"}], "mark": {"type": "rect", "filled": false, "stroke": "#a3a3a3", "strokeWidth": 2},
  "encoding": {"x": {"field": "x", "type": "quantitative", "scale": {"domain": [195, 250], "nice": false, "zero": false}}, "x2": {"field": "x2"}, "y": {"field": "v", "type": "quantitative", "scale": {"domain": [-12000, 6000], "nice": false, "zero": false}}, "y2": {"field": "v2"}}},
 {"data": {"name": "dA"}, "mark": {"type": "line", "strokeWidth": 3},
  "encoding": {"x": {"field": "x", "type": "quantitative", "scale": {"domain": [195, 250], "nice": false, "zero": false}, "axis": {"values": [195, 215, 235], "format": "d", "offset": -262, "title": "Wavelength (nm)", "titleX": 133, "titleY": 286}},
   "y": {"field": "v", "type": "quantitative", "scale": {"domain": [-12000, 6000], "nice": false, "zero": false}, "axis": {"values": [-12000, -10000, -8000, -6000, -4000, -2000, 0, 2000, 4000, 6000], "labelExpr": "'' + datum.value", "title": "Molar Ellipticity (deg · cm²/dmol)"}},
   "color": {"field": "s", "type": "nominal", "scale": {"domain": ["αA wt", "R12C", "R21L", "R49C", "R54C"], "range": ["#4F81BD", "#C0504D", "#9BBB59", "#8064A2", "#4BACC6"]}, "legend": null}}},
 {"data": {"name": "ann"}, "transform": [{"filter": "datum.p == 'A'"}], "mark": {"type": "rule", "strokeWidth": 2, "color": "black"},
  "encoding": {"x": {"field": "x", "type": "quantitative", "scale": {"domain": [195, 250], "nice": false, "zero": false}}, "x2": {"field": "x2"}, "y": {"field": "v", "type": "quantitative", "scale": {"domain": [-12000, 6000], "nice": false, "zero": false}}}},
 {"data": {"name": "ann"}, "transform": [{"filter": "datum.p == 'A'"}], "mark": {"type": "point", "shape": "triangle-right", "filled": true, "size": 75, "color": "black", "opacity": 1, "xOffset": -4},
  "encoding": {"x": {"field": "x2", "type": "quantitative", "scale": {"domain": [195, 250], "nice": false, "zero": false}}, "y": {"field": "v", "type": "quantitative", "scale": {"domain": [-12000, 6000], "nice": false, "zero": false}}}},
 {"data": {"name": "ann"}, "transform": [{"filter": "datum.p == 'A'"}], "mark": {"type": "text", "align": "left", "baseline": "middle", "font": "Liberation Serif", "fontWeight": "bold", "fontSize": 19, "color": "black"},
  "encoding": {"x": {"field": "tx", "type": "quantitative", "scale": {"domain": [195, 250], "nice": false, "zero": false}}, "y": {"field": "v", "type": "quantitative", "scale": {"domain": [-12000, 6000], "nice": false, "zero": false}}, "text": {"field": "t"}}},
 {"data": {"name": "frames"}, "transform": [{"filter": "datum.p == 'A'"}], "mark": {"type": "text", "align": "left", "baseline": "alphabetic", "font": "Liberation Serif", "fontWeight": "bold", "fontSize": 34, "color": "black"},
  "encoding": {"x": {"field": "lx", "type": "quantitative", "scale": {"domain": [195, 250], "nice": false, "zero": false}}, "y": {"field": "lv", "type": "quantitative", "scale": {"domain": [-12000, 6000], "nice": false, "zero": false}}, "text": {"field": "L"}}}
]},
{"width": 355, "height": 382, "layer": [
 {"data": {"name": "frames"}, "transform": [{"filter": "datum.p == 'C'"}], "mark": {"type": "rect", "filled": false, "stroke": "#a3a3a3", "strokeWidth": 2},
  "encoding": {"x": {"field": "x", "type": "quantitative", "scale": {"domain": [195, 250], "nice": false, "zero": false}}, "x2": {"field": "x2"}, "y": {"field": "v", "type": "quantitative", "scale": {"domain": [-12000, 6000], "nice": false, "zero": false}}, "y2": {"field": "v2"}}},
 {"data": {"name": "dC"}, "mark": {"type": "line", "strokeWidth": 3},
  "encoding": {"x": {"field": "x", "type": "quantitative", "scale": {"domain": [195, 250], "nice": false, "zero": false}, "axis": {"values": [195, 215, 235], "format": "d", "offset": -254.7, "labelPadding": 13, "title": "Wavelength (nm)", "titleX": 150.3, "titleY": 270.2}},
   "y": {"field": "v", "type": "quantitative", "scale": {"domain": [-12000, 6000], "nice": false, "zero": false}, "axis": {"values": [-12000, -10000, -8000, -6000, -4000, -2000, 0, 2000, 4000, 6000], "labelExpr": "'' + datum.value", "title": "Molar Ellipticity (deg · cm²/dmol)"}},
   "color": {"field": "s", "type": "nominal", "scale": {"domain": ["αA wt", "R12C", "R21L", "R49C", "R54C"], "range": ["#4F81BD", "#C0504D", "#9BBB59", "#8064A2", "#4BACC6"]}, "legend": null}}},
 {"data": {"name": "ann"}, "transform": [{"filter": "datum.p == 'C'"}], "mark": {"type": "rule", "strokeWidth": 2, "color": "black"},
  "encoding": {"x": {"field": "x", "type": "quantitative", "scale": {"domain": [195, 250], "nice": false, "zero": false}}, "x2": {"field": "x2"}, "y": {"field": "v", "type": "quantitative", "scale": {"domain": [-12000, 6000], "nice": false, "zero": false}}}},
 {"data": {"name": "ann"}, "transform": [{"filter": "datum.p == 'C'"}], "mark": {"type": "point", "shape": "triangle-right", "filled": true, "size": 75, "color": "black", "opacity": 1, "xOffset": -4},
  "encoding": {"x": {"field": "x2", "type": "quantitative", "scale": {"domain": [195, 250], "nice": false, "zero": false}}, "y": {"field": "v", "type": "quantitative", "scale": {"domain": [-12000, 6000], "nice": false, "zero": false}}}},
 {"data": {"name": "ann"}, "transform": [{"filter": "datum.p == 'C'"}], "mark": {"type": "text", "align": "left", "baseline": "middle", "font": "Liberation Serif", "fontWeight": "bold", "fontSize": 19, "color": "black"},
  "encoding": {"x": {"field": "tx", "type": "quantitative", "scale": {"domain": [195, 250], "nice": false, "zero": false}}, "y": {"field": "v", "type": "quantitative", "scale": {"domain": [-12000, 6000], "nice": false, "zero": false}}, "text": {"field": "t"}}},
 {"data": {"name": "frames"}, "transform": [{"filter": "datum.p == 'C'"}], "mark": {"type": "text", "align": "left", "baseline": "alphabetic", "font": "Liberation Serif", "fontWeight": "bold", "fontSize": 34, "color": "black"},
  "encoding": {"x": {"field": "lx", "type": "quantitative", "scale": {"domain": [195, 250], "nice": false, "zero": false}}, "y": {"field": "lv", "type": "quantitative", "scale": {"domain": [-12000, 6000], "nice": false, "zero": false}}, "text": {"field": "L"}}}
]}
]},
{"spacing": 1, "vconcat": [
{"width": 356, "height": 416, "layer": [
 {"data": {"name": "frames"}, "transform": [{"filter": "datum.p == 'B'"}], "mark": {"type": "rect", "filled": false, "stroke": "#a3a3a3", "strokeWidth": 2},
  "encoding": {"x": {"field": "x", "type": "quantitative", "scale": {"domain": [195, 250], "nice": false, "zero": false}}, "x2": {"field": "x2"}, "y": {"field": "v", "type": "quantitative", "scale": {"domain": [-12000, 6612], "nice": false, "zero": false}}, "y2": {"field": "v2"}}},
 {"data": {"name": "axisExt"}, "mark": {"type": "rule", "strokeWidth": 1.3, "color": "#8a8a8a"},
  "encoding": {"x": {"field": "x", "type": "quantitative", "scale": {"domain": [195, 250], "nice": false, "zero": false}}, "y": {"field": "v", "type": "quantitative", "scale": {"domain": [-12000, 6612], "nice": false, "zero": false}}, "y2": {"field": "v2"}}},
 {"data": {"name": "dB"}, "mark": {"type": "line", "strokeWidth": 3},
  "encoding": {"x": {"field": "x", "type": "quantitative", "scale": {"domain": [195, 250], "nice": false, "zero": false}, "axis": {"values": [195, 215, 235], "format": "d", "offset": -268.1, "title": "Wavelength (nm)", "titleX": 153.7, "titleY": 283.7}},
   "y": {"field": "v", "type": "quantitative", "scale": {"domain": [-12000, 6612], "nice": false, "zero": false}, "axis": {"values": [-12000, -10000, -8000, -6000, -4000, -2000, 0, 2000, 4000, 6000], "labelExpr": "'' + datum.value", "title": "Molar Ellipticity (deg · cm²/dmol)"}},
   "color": {"field": "s", "type": "nominal", "scale": {"domain": ["αA wt", "R12C", "R21L", "R49C", "R54C"], "range": ["#4F81BD", "#C0504D", "#9BBB59", "#8064A2", "#4BACC6"]}, "legend": null}}},
 {"data": {"name": "ann"}, "transform": [{"filter": "datum.p == 'B'"}], "mark": {"type": "rule", "strokeWidth": 2, "color": "black"},
  "encoding": {"x": {"field": "x", "type": "quantitative", "scale": {"domain": [195, 250], "nice": false, "zero": false}}, "x2": {"field": "x2"}, "y": {"field": "v", "type": "quantitative", "scale": {"domain": [-12000, 6612], "nice": false, "zero": false}}}},
 {"data": {"name": "ann"}, "transform": [{"filter": "datum.p == 'B'"}], "mark": {"type": "point", "shape": "triangle-right", "filled": true, "size": 75, "color": "black", "opacity": 1, "xOffset": -4},
  "encoding": {"x": {"field": "x2", "type": "quantitative", "scale": {"domain": [195, 250], "nice": false, "zero": false}}, "y": {"field": "v", "type": "quantitative", "scale": {"domain": [-12000, 6612], "nice": false, "zero": false}}}},
 {"data": {"name": "ann"}, "transform": [{"filter": "datum.p == 'B'"}], "mark": {"type": "text", "align": "left", "baseline": "middle", "font": "Liberation Serif", "fontWeight": "bold", "fontSize": 19, "color": "black"},
  "encoding": {"x": {"field": "tx", "type": "quantitative", "scale": {"domain": [195, 250], "nice": false, "zero": false}}, "y": {"field": "v", "type": "quantitative", "scale": {"domain": [-12000, 6612], "nice": false, "zero": false}}, "text": {"field": "t"}}},
 {"data": {"name": "frames"}, "transform": [{"filter": "datum.p == 'B'"}], "mark": {"type": "text", "align": "left", "baseline": "alphabetic", "font": "Liberation Serif", "fontWeight": "bold", "fontSize": 34, "color": "black"},
  "encoding": {"x": {"field": "lx", "type": "quantitative", "scale": {"domain": [195, 250], "nice": false, "zero": false}}, "y": {"field": "lv", "type": "quantitative", "scale": {"domain": [-12000, 6612], "nice": false, "zero": false}}, "text": {"field": "L"}}}
]},
{"width": 353, "height": 378, "layer": [
 {"data": {"name": "frames"}, "transform": [{"filter": "datum.p == 'D'"}], "mark": {"type": "rect", "filled": false, "stroke": "#a3a3a3", "strokeWidth": 2},
  "encoding": {"x": {"field": "x", "type": "quantitative", "scale": {"domain": [195, 250], "nice": false, "zero": false}}, "x2": {"field": "x2"}, "y": {"field": "v", "type": "quantitative", "scale": {"domain": [-12000, 6000], "nice": false, "zero": false}}, "y2": {"field": "v2"}}},
 {"data": {"name": "dC"}, "mark": {"type": "line", "strokeWidth": 3},
  "encoding": {"x": {"field": "x", "type": "quantitative", "scale": {"domain": [195, 250], "nice": false, "zero": false}, "axis": {"values": [195, 215, 235], "format": "d", "offset": -252, "labelPadding": 13, "title": "Wavelength (nm)", "titleX": 149, "titleY": 269}},
   "y": {"field": "v", "type": "quantitative", "scale": {"domain": [-12000, 6000], "nice": false, "zero": false}, "axis": {"values": [-12000, -10000, -8000, -6000, -4000, -2000, 0, 2000, 4000, 6000], "labelExpr": "'' + datum.value", "title": "Molar Ellipticity (deg · cm²/dmol)"}},
   "color": {"field": "s", "type": "nominal", "scale": {"domain": ["αA wt", "R12C", "R21L", "R49C", "R54C"], "range": ["#4F81BD", "#C0504D", "#9BBB59", "#8064A2", "#4BACC6"]}, "legend": null}}},
 {"data": {"name": "ann"}, "transform": [{"filter": "datum.p == 'D'"}], "mark": {"type": "rule", "strokeWidth": 2, "color": "black"},
  "encoding": {"x": {"field": "x", "type": "quantitative", "scale": {"domain": [195, 250], "nice": false, "zero": false}}, "x2": {"field": "x2"}, "y": {"field": "v", "type": "quantitative", "scale": {"domain": [-12000, 6000], "nice": false, "zero": false}}}},
 {"data": {"name": "ann"}, "transform": [{"filter": "datum.p == 'D'"}], "mark": {"type": "point", "shape": "triangle-right", "filled": true, "size": 75, "color": "black", "opacity": 1, "xOffset": -4},
  "encoding": {"x": {"field": "x2", "type": "quantitative", "scale": {"domain": [195, 250], "nice": false, "zero": false}}, "y": {"field": "v", "type": "quantitative", "scale": {"domain": [-12000, 6000], "nice": false, "zero": false}}}},
 {"data": {"name": "ann"}, "transform": [{"filter": "datum.p == 'D'"}], "mark": {"type": "text", "align": "left", "baseline": "middle", "font": "Liberation Serif", "fontWeight": "bold", "fontSize": 19, "color": "black"},
  "encoding": {"x": {"field": "tx", "type": "quantitative", "scale": {"domain": [195, 250], "nice": false, "zero": false}}, "y": {"field": "v", "type": "quantitative", "scale": {"domain": [-12000, 6000], "nice": false, "zero": false}}, "text": {"field": "t"}}},
 {"data": {"name": "frames"}, "transform": [{"filter": "datum.p == 'D'"}], "mark": {"type": "text", "align": "left", "baseline": "alphabetic", "font": "Liberation Serif", "fontWeight": "bold", "fontSize": 34, "color": "black"},
  "encoding": {"x": {"field": "lx", "type": "quantitative", "scale": {"domain": [195, 250], "nice": false, "zero": false}}, "y": {"field": "lv", "type": "quantitative", "scale": {"domain": [-12000, 6000], "nice": false, "zero": false}}, "text": {"field": "L"}}}
]}
]}
]
}
